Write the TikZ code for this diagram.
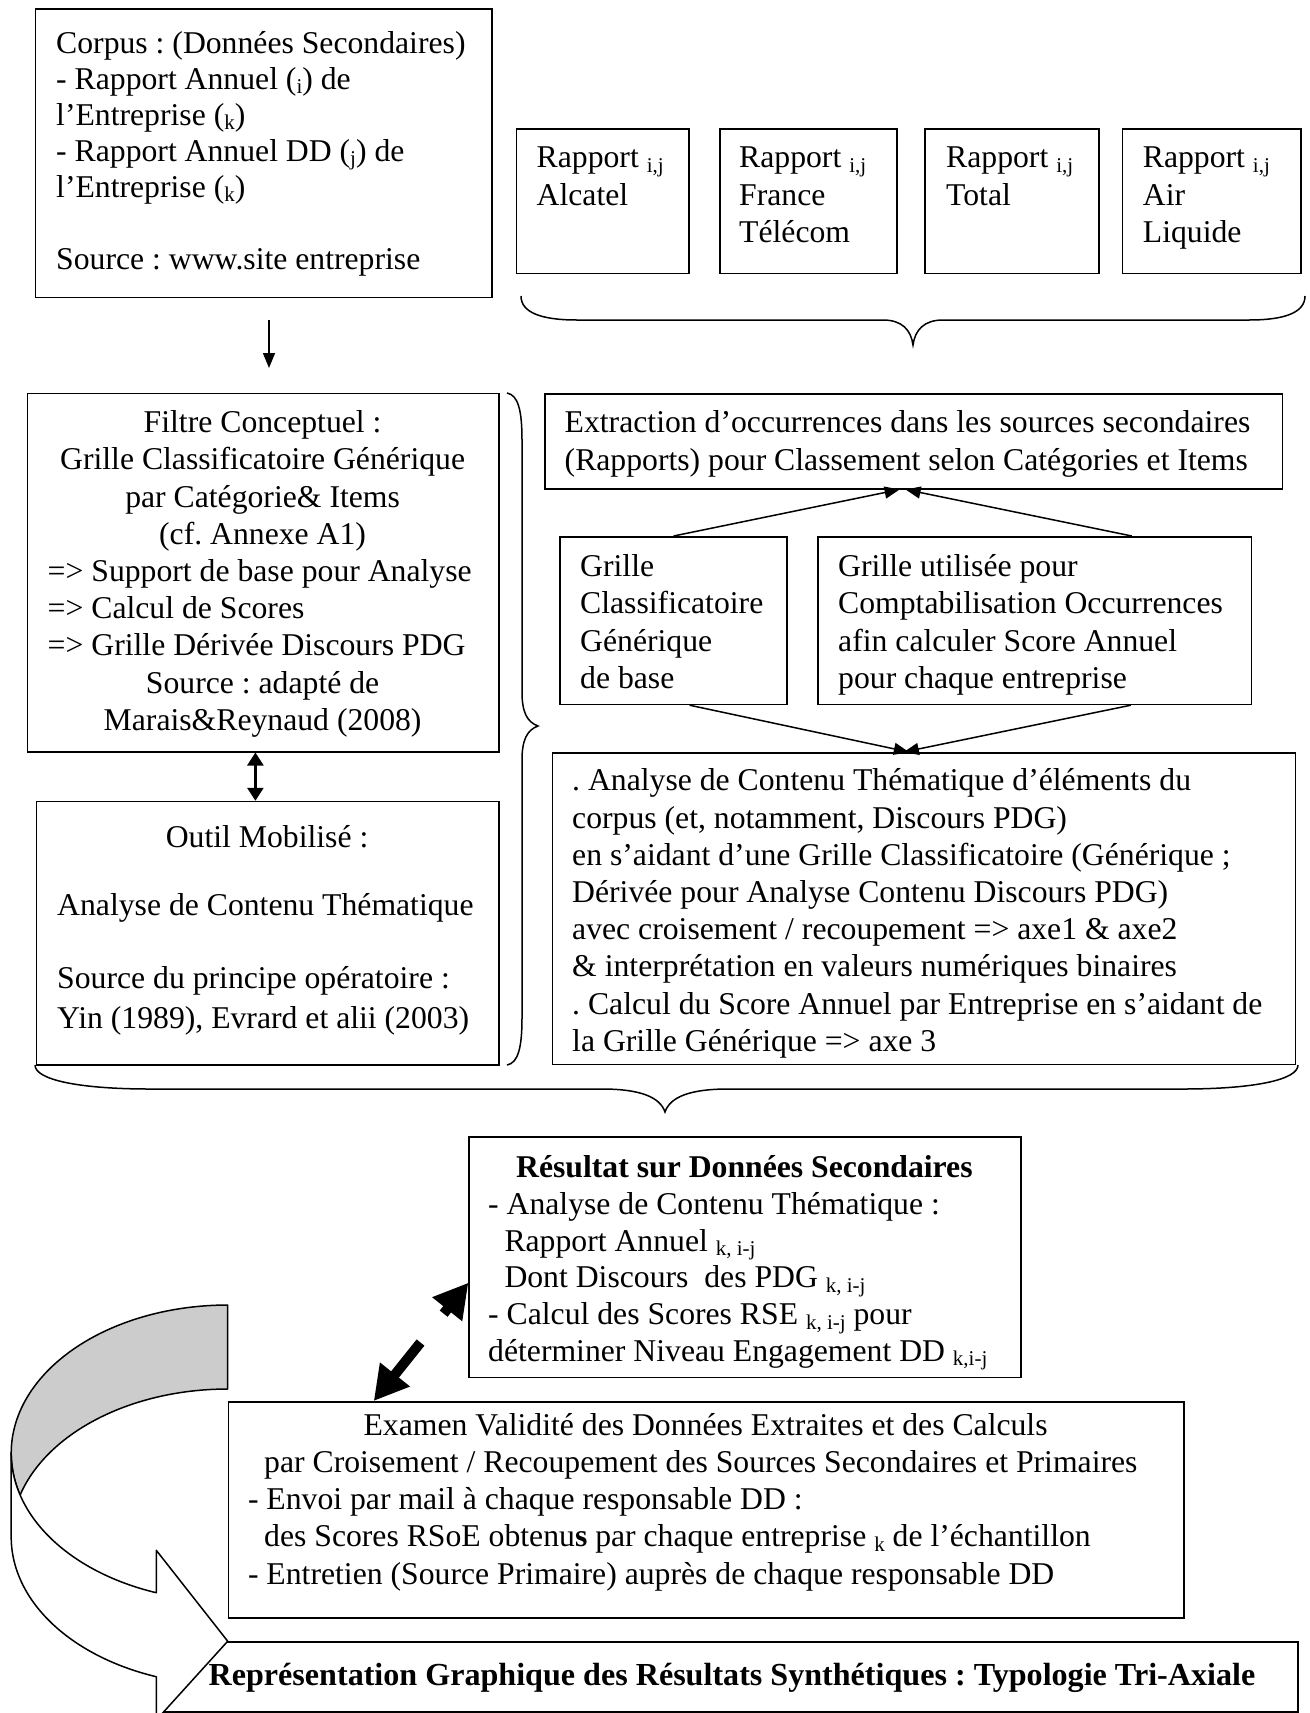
\documentclass[tikz,border=0pt]{standalone}
\usepackage{fontspec}
\setmainfont{Liberation Serif}
\usetikzlibrary{arrows.meta}
% Word-style lowered index
\newcommand\sbs[1]{\raisebox{-4.5pt}{\fontsize{21}{21}\selectfont #1}}

\begin{document}
\frenchspacing
\begin{tikzpicture}[x=1pt,y=-1pt,
  box/.style={draw, line width=1.5pt, inner sep=0pt, anchor=north west},
  txt/.style={inner sep=0pt, anchor=north west, align=left, font=\fontsize{31.7}{37.2}\selectfont\frenchspacing},
  brace/.style={line width=1.5pt},
  thinarrow/.style={line width=1.5pt, -{Triangle[length=15pt,width=12pt]}},
  dblarrow/.style={line width=2.5pt, {Triangle[length=13pt,width=16pt]}-{Triangle[length=13pt,width=16pt]}},
  bigarrow/.style={line width=10pt, dash pattern=on 43pt off 37pt on 40pt,
    {Triangle[length=34pt,width=36pt]}-{Triangle[length=34pt,width=36pt]}},
  ribbon/.style={line width=1.5pt, line join=round}
]
\useasboundingbox (0,0) rectangle (1309,1713);

% ---------- boxes ----------
\node[box, minimum width=456.5pt, minimum height=288.4pt] (corpus) at (34.5,8.3) {};
\node[box, minimum width=172.5pt, minimum height=144.4pt] (r1) at (515.5,128.3) {};
\node[box, minimum width=177pt,   minimum height=144.4pt] (r2) at (719,128.3) {};
\node[box, minimum width=174pt,   minimum height=144.4pt] (r3) at (924,128.3) {};
\node[box, minimum width=178.3pt, minimum height=144.4pt] (r4) at (1121.7,128.3) {};
\node[box, minimum width=471.2pt, minimum height=358.5pt] (filtre) at (26.8,392.5) {};
\node[box, minimum width=462.3pt, minimum height=263.2pt] (outil) at (35.7,800.8) {};
\node[box, minimum width=737.7pt, minimum height=94.6pt] (extraction) at (544,393.4) {};
\node[box, minimum width=227.1pt, minimum height=167.7pt] (grille) at (559.3,536) {};
\node[box, minimum width=433.5pt, minimum height=167.7pt] (grilleu) at (817.3,536) {};
\node[box, minimum width=743pt,   minimum height=311.5pt] (analyse) at (551.6,752) {};
\node[box, minimum width=551.6pt, minimum height=240.7pt] (resultat) at (468.4,1136) {};
\node[box, minimum width=955.3pt, minimum height=216pt] (examen) at (227.7,1401) {};
\node[box, minimum width=1137pt,  minimum height=69.8pt] (repr) at (160,1641.2) {};

% ---------- braces ----------
\draw[brace] (521,296) .. controls (521,312) and (540,320) .. (577,320) -- (883,320)
  .. controls (902,320) and (911,330) .. (913,345)
  .. controls (915,330) and (924,320) .. (943,320) -- (1249,320)
  .. controls (1286,320) and (1305,312) .. (1305,296);
\draw[brace] (507,393) .. controls (518,395) and (522,410) .. (522,440) -- (522,692)
  .. controls (522,712) and (527,722) .. (538,726)
  .. controls (527,730) and (522,740) .. (522,760) -- (522,1018)
  .. controls (522,1048) and (518,1063) .. (507,1065);
\draw[brace] (35,1065) .. controls (35,1080) and (80,1089) .. (150,1089) -- (602,1089)
  .. controls (640,1089) and (660,1097) .. (665,1112)
  .. controls (670,1097) and (690,1089) .. (728,1089) -- (1183,1089)
  .. controls (1253,1089) and (1298,1080) .. (1298,1065);

% ---------- connectors ----------
\coordinate (ca) at (269,320);
\coordinate (cb) at (269,368);
\draw[thinarrow] (ca) -- (cb);
\coordinate (fo) at (255.4,0);
\draw[dblarrow] (filtre.south -| fo) -- (outil.north -| fo);
\draw[thinarrow] (grille.north) -- ([xshift=-14pt]extraction.south);
\draw[thinarrow] ([xshift=97pt]grilleu.north) -- ([xshift=-8pt]extraction.south);
\draw[thinarrow] ([xshift=16pt]grille.south) -- ([xshift=-15pt]analyse.north);
\draw[thinarrow] ([xshift=96pt]grilleu.south) -- ([xshift=-20pt]analyse.north);
\draw[bigarrow] ([xshift=-332.35pt]examen.north) -- ([yshift=-25.6pt]resultat.west);

% ---------- curved ribbon arrow ----------
\filldraw[ribbon, fill=gray!40]
  plot[domain=90:196.5, samples=60] ({227.7+216.5*cos(\x)},{1453-148*sin(\x)})
  -- plot[domain=163.5:90, samples=60] ({227.7+216.5*cos(\x)},{1537-148*sin(\x)})
  -- cycle;
\filldraw[ribbon, fill=white]
  (11.2,1453)
  -- plot[domain=180:250.74, samples=60] ({227.7+216.5*cos(\x)},{1537-148*sin(\x)})
  -- (156.3,1720) -- (227.7,1641.2) -- (156.3,1550.3)
  -- plot[domain=250.74:180, samples=60] ({227.7+216.5*cos(\x)},{1453-148*sin(\x)})
  -- cycle;

% ---------- texts ----------
\node[txt, font=\fontsize{31.7}{36}\selectfont] (tcorpus) at (56,27.8) {\strut Corpus : (Données Secondaires)\\
- Rapport Annuel (\sbs{i}) de\\
l’Entreprise (\sbs{k})\\
- Rapport Annuel DD (\sbs{j}) de\\
l’Entreprise (\sbs{k})\\
\strut\\
Source : www.site entreprise};

\node[txt] (tr1) at (536.5,141.7) {\strut Rapport \sbs{i,j}\\ Alcatel};
\node[txt] (tr2) at (739,141.7) {\strut Rapport \sbs{i,j}\\ France\\ Télécom};
\node[txt] (tr3) at (946,141.7) {\strut Rapport \sbs{i,j}\\ Total};
\node[txt] (tr4) at (1142.7,141.7) {\strut Rapport \sbs{i,j}\\ Air\\ Liquide};

\node[txt] (tfiltre) at (47.5,406.5) {\strut\makebox[429.8pt]{Filtre Conceptuel :}\\
\makebox[429.8pt]{Grille Classificatoire Générique}\\
\makebox[429.8pt]{par Catégorie\& Items}\\
\makebox[429.8pt]{(cf. Annexe A1)}\\
=> Support de base pour Analyse\\
=> Calcul de Scores\\
=> Grille Dérivée Discours PDG\\
\makebox[429.8pt]{Source : adapté de}\\
\makebox[429.8pt]{Marais\&Reynaud (2008)}};

\node[txt] (toutil) at (57,821) {\strut\makebox[419.7pt]{Outil Mobilisé :}\\[-5.7pt]
\strut\\
Analyse de Contenu Thématique\\[-1.7pt]
\strut\\
Source du principe opératoire :\\[3pt]
Yin (1989), Evrard et alii (2003)};

\node[txt, font=\fontsize{31.7}{38.5}\selectfont] (textraction) at (564.5,405) {\strut Extraction d’occurrences dans les sources secondaires\\
(Rapports) pour Classement selon Catégories et Items};

\node[txt] (tgrille) at (580,550.4) {\strut Grille\\ Classificatoire\\ Générique\\ de base};
\node[txt] (tgrilleu) at (838,550.4) {\strut Grille utilisée pour\\
Comptabilisation Occurrences\\
afin calculer Score Annuel\\
pour chaque entreprise};

\node[txt] (tanalyse) at (572,764.7) {\strut . Analyse de Contenu Thématique d’éléments du\\
corpus (et, notamment, Discours PDG)\\
en s’aidant d’une Grille Classificatoire (Générique ;\\
Dérivée pour Analyse Contenu Discours PDG)\\
avec croisement / recoupement => axe1 \& axe2\\
\& interprétation en valeurs numériques binaires\\
. Calcul du Score Annuel par Entreprise en s’aidant de\\
la Grille Générique => axe 3};

\node[txt, font=\fontsize{31.7}{36.8}\selectfont] (tresultat) at (488,1151.5) {\strut\makebox[512.4pt]{\bfseries Résultat sur Données Secondaires}\\
- Analyse de Contenu Thématique :\\
\hspace*{16.3pt}Rapport Annuel \sbs{k, i-j}\\
\hspace*{16.3pt}Dont Discours\ \ des PDG \sbs{k, i-j}\\
- Calcul des Scores RSE \sbs{k, i-j} pour\\
déterminer Niveau Engagement DD \sbs{k,i-j}};

\node[txt] (texamen) at (247.8,1409) {\strut\makebox[915.1pt]{Examen Validité des Données Extraites et des Calculs}\\
\hspace*{16.2pt}par Croisement / Recoupement des Sources Secondaires et Primaires\\
- Envoi par mail à chaque responsable DD :\\
\hspace*{16.2pt}des Scores RSoE obtenu\textbf{s} par chaque entreprise \sbs{k} de l’échantillon\\
- Entretien (Source Primaire) auprès de chaque responsable DD};

\node[txt, anchor=base west, font=\fontsize{32.1}{37.2}\selectfont] (trepr) at (208.5,1685.6) {\bfseries Représentation Graphique des Résultats Synthétiques : Typologie Tri-Axiale};
\end{tikzpicture}
\end{document}
